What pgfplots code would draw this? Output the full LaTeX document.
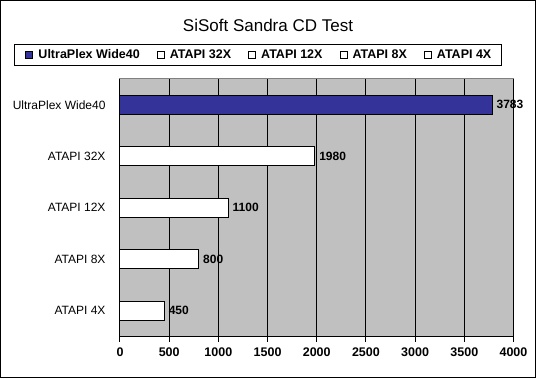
\documentclass[border=0pt]{standalone}
\usepackage{fontspec}
\setmainfont{Liberation Sans}
\usepackage{pgfplots}
\pgfplotsset{compat=1.18}
\definecolor{ubar}{HTML}{333399}
\definecolor{plotbg}{HTML}{C0C0C0}
\definecolor{plotbd}{HTML}{808080}
\newcommand{\fsz}[1]{\fontsize{#1}{#1}\selectfont}
\begin{document}
\begin{tikzpicture}[x=1pt,y=1pt]
\draw[line width=1pt] (0.5,0.5) rectangle (535.5,377.5);
\node[font=\fsz{17}] at (268,353) {SiSoft Sandra CD Test};
\begin{axis}[
 at={(120pt,41.5pt)}, anchor=south west,
 scale only axis, width=393.5pt, height=257.5pt,
 xbar, bar width=19pt, bar shift=0pt,
 xmin=0, xmax=4000, ymin=0.5, ymax=5.5,
 xtick={0,500,...,4000},
 ytick={1,2,3,4,5},
 yticklabels={ATAPI 4X, ATAPI 8X, ATAPI 12X, ATAPI 32X, UltraPlex Wide40},
 minor ytick={0.5,1.5,2.5,3.5,4.5,5.5},
 ytick style={draw=none},
 minor y tick style={black, line width=1pt},
 x tick style={black, line width=1pt},
 major tick length=5pt, minor tick length=5pt, tick align=outside,
 xmajorgrids, major x grid style={black, line width=1pt},
 axis background/.style={fill=plotbg, draw=plotbd, line width=1pt},
 axis x line*=bottom, axis y line*=left,
 axis line style={black, line width=1pt, -},
 xticklabel style={font=\bfseries\fsz{12.5}, yshift=-3pt},
 yticklabel style={font=\fsz{12}, xshift=-6pt},
 /pgf/number format/assume math mode=true, /pgf/number format/1000 sep={},
 scaled x ticks=false,
 nodes near coords,
 nodes near coords style={font=\bfseries\fsz{12}, anchor=west, inner sep=0pt, xshift=4pt, black},
 legend columns=5,
 legend style={at={(-0.2694,1.1359)}, anchor=north west, draw=black, line width=1pt,
   font=\bfseries\fsz{12.5}, inner xsep=8pt, inner ysep=3pt,
   /tikz/every even column/.append style={column sep=12pt},
   /tikz/every odd column/.append style={column sep=3pt}},
 legend cell align=left,
 legend image code/.code={\path (0pt,0pt); \draw[#1, line width=1pt] (3pt,-3.5pt) rectangle (10pt,3.5pt);},
]
\addplot[fill=ubar, draw=black, line width=1pt] coordinates {(3783,5)};
\addlegendentry{UltraPlex Wide40}
\addplot[fill=white, draw=black, line width=1pt] coordinates {(1980,4)};
\addlegendentry{ATAPI 32X}
\addplot[fill=white, draw=black, line width=1pt] coordinates {(1100,3)};
\addlegendentry{ATAPI 12X}
\addplot[fill=white, draw=black, line width=1pt] coordinates {(800,2)};
\addlegendentry{ATAPI 8X}
\addplot[fill=white, draw=black, line width=1pt] coordinates {(450,1)};
\addlegendentry{ATAPI 4X}
\end{axis}
\end{tikzpicture}
\end{document}
